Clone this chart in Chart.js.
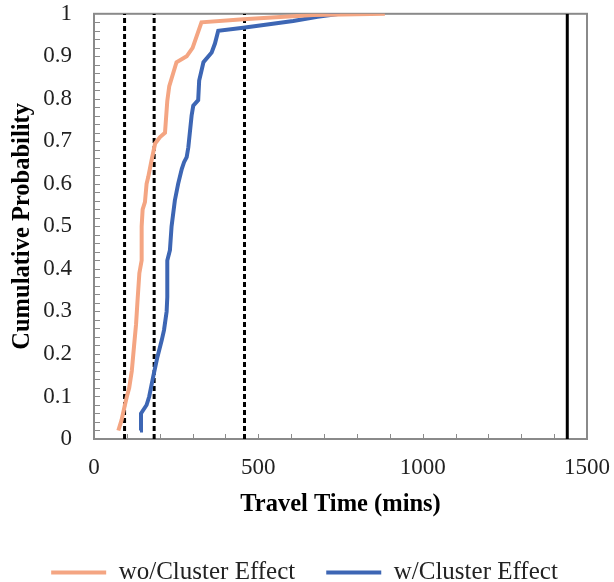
<!DOCTYPE html>
<html>
<head>
<meta charset="utf-8">
<script src="https://cdn.jsdelivr.net/npm/chart.js@4/dist/chart.umd.min.js"></script>
<style>
  html, body { margin: 0; padding: 0; background: #fff; }
  #wrap { width: 614px; height: 582px; }
</style>
</head>
<body>
<div id="wrap"><canvas id="cdf"></canvas></div>
<script>
// travel time (mins) and cumulative probability
var woTime = [74, 84, 94, 100, 107, 115, 122, 128, 132, 138, 145, 145, 148, 155, 160, 165, 175, 186, 201, 216, 223, 229, 251, 282, 300, 327, 454, 667, 885];
var woProb = [0.02, 0.045, 0.08, 0.10, 0.12, 0.16, 0.22, 0.27, 0.32, 0.39, 0.42, 0.50, 0.54, 0.557, 0.60, 0.616, 0.655, 0.695, 0.71, 0.72, 0.795, 0.83, 0.886, 0.90, 0.92, 0.98, 0.987, 0.997, 1.0];
var wTime = [140, 143, 160, 168, 180, 193, 206, 213, 221, 223, 223, 231, 236, 246, 256, 267, 274, 282, 287, 297, 302, 317, 320, 327, 333, 358, 368, 378, 454, 606, 680, 748];
var wProb = [0.02, 0.06, 0.08, 0.10, 0.146, 0.193, 0.232, 0.256, 0.30, 0.334, 0.42, 0.444, 0.50, 0.561, 0.60, 0.635, 0.651, 0.663, 0.686, 0.761, 0.784, 0.797, 0.843, 0.866, 0.886, 0.909, 0.93, 0.96, 0.967, 0.983, 0.993, 1.0];
var dashedAt = [93, 183, 458];
var solidAt = 1440;
var seriesNames = ["wo/Cluster Effect", "w/Cluster Effect"];
var xTicks = [0, 500, 1000, 1500];

var orange = "#F4A582";
var blue = "#3D66B4";
var serif = "'Liberation Serif', 'Times New Roman', serif";

function pts(xs, ys){
    var out = [];
    for(let i = 0; i < xs.length; i++){
        out.push({x: xs[i], y: ys[i]});
    }
    return out;
}

var datasets = [
    { label: seriesNames[0], data: pts(woTime, woProb), borderColor: orange, backgroundColor: orange, borderWidth: 4 },
    { label: seriesNames[1], data: pts(wTime, wProb), borderColor: blue, backgroundColor: blue, borderWidth: 4 }
];
for(let i = 0; i < dashedAt.length; i++){
    datasets.push({ label: "ref" + i, data: pts([dashedAt[i], dashedAt[i]], [0, 1]), borderColor: "#000", borderWidth: 3, borderDash: [5, 3] });
}
datasets.push({ label: "day", data: pts([solidAt, solidAt], [0, 1]), borderColor: "#000", borderWidth: 3 });
datasets.forEach(function(d){
    d.showLine = true;
    d.pointRadius = 0;
    d.pointHoverRadius = 0;
    d.tension = 0;
});

// frame + small inside ticks like the original
var frame = {
    id: "frame",
    afterLayout: function(chart){
        // nudge the legend row to where the original has it
        var lg = chart.legend;
        if(lg){
            lg.top -= 3; lg.bottom -= 3;
            lg.left += 11; lg.right += 11;
        }
    },
    beforeDatasetsDraw: function(chart){
        var ctx = chart.ctx, a = chart.chartArea;
        var xs = chart.scales.x, ys = chart.scales.y;
        ctx.save();
        ctx.strokeStyle = "#8a8a8a";
        ctx.lineWidth = 1;
        for(let v = 100; v < 1500; v += 100){
            let px = Math.round(xs.getPixelForValue(v)) + 0.5;
            ctx.beginPath();
            ctx.moveTo(px, a.bottom);
            ctx.lineTo(px, a.bottom - 5);
            ctx.stroke();
        }
        for(let k = 1; k < 50; k++){
            let py = Math.round(ys.getPixelForValue(k / 50)) + 0.5;
            ctx.beginPath();
            ctx.moveTo(a.left, py);
            ctx.lineTo(a.left + 6, py);
            ctx.stroke();
        }
        ctx.lineWidth = 2;
        ctx.strokeRect(a.left, a.top, a.right - a.left, a.bottom - a.top);
        ctx.restore();
    }
};

new Chart(document.getElementById("cdf"), {
    type: "scatter",
    data: { datasets: datasets },
    options: {
        responsive: true,
        maintainAspectRatio: false,
        animation: false,
        layout: { padding: { left: 0, right: 27, top: 12, bottom: 0 } },
        scales: {
            x: {
                type: "linear",
                min: 0,
                max: 1500,
                afterBuildTicks: function(scale){
                    scale.ticks = xTicks.map(function(v){ return {value: v}; });
                },
                afterFit: function(scale){ scale.height = 93; },
                grid: { display: false, drawTicks: true, tickLength: 15 },
                border: { display: false },
                ticks: {
                    padding: 0,
                    color: "#222",
                    font: { family: serif, size: 23 },
                    callback: function(v){ return String(v); }
                },
                title: {
                    display: true,
                    text: "Travel Time (mins)",
                    color: "#000",
                    padding: { top: 0, bottom: 13 },
                    font: { family: serif, size: 24.5, weight: "bold" }
                }
            },
            y: {
                min: 0,
                max: 1,
                afterFit: function(scale){ scale.width = 94; },
                grid: { display: false, drawTicks: true, tickLength: 22 },
                border: { display: false },
                ticks: {
                    stepSize: 0.1,
                    padding: 0,
                    color: "#222",
                    font: { family: serif, size: 23 },
                    callback: function(v){ return String(+v.toFixed(1)); }
                },
                title: {
                    display: true,
                    text: "Cumulative Probability",
                    color: "#000",
                    padding: { top: 8, bottom: 0 },
                    font: { family: serif, size: 24.5, weight: "bold" }
                }
            }
        },
        plugins: {
            tooltip: { enabled: false },
            legend: {
                position: "bottom",
                maxHeight: 50,
                labels: {
                    usePointStyle: true,
                    pointStyle: "line",
                    pointStyleWidth: 55,
                    padding: 31,
                    color: "#222",
                    font: { family: serif, size: 25 },
                    filter: function(item){ return item.datasetIndex < 2; }
                }
            }
        }
    },
    plugins: [frame]
});
</script>
</body>
</html>
